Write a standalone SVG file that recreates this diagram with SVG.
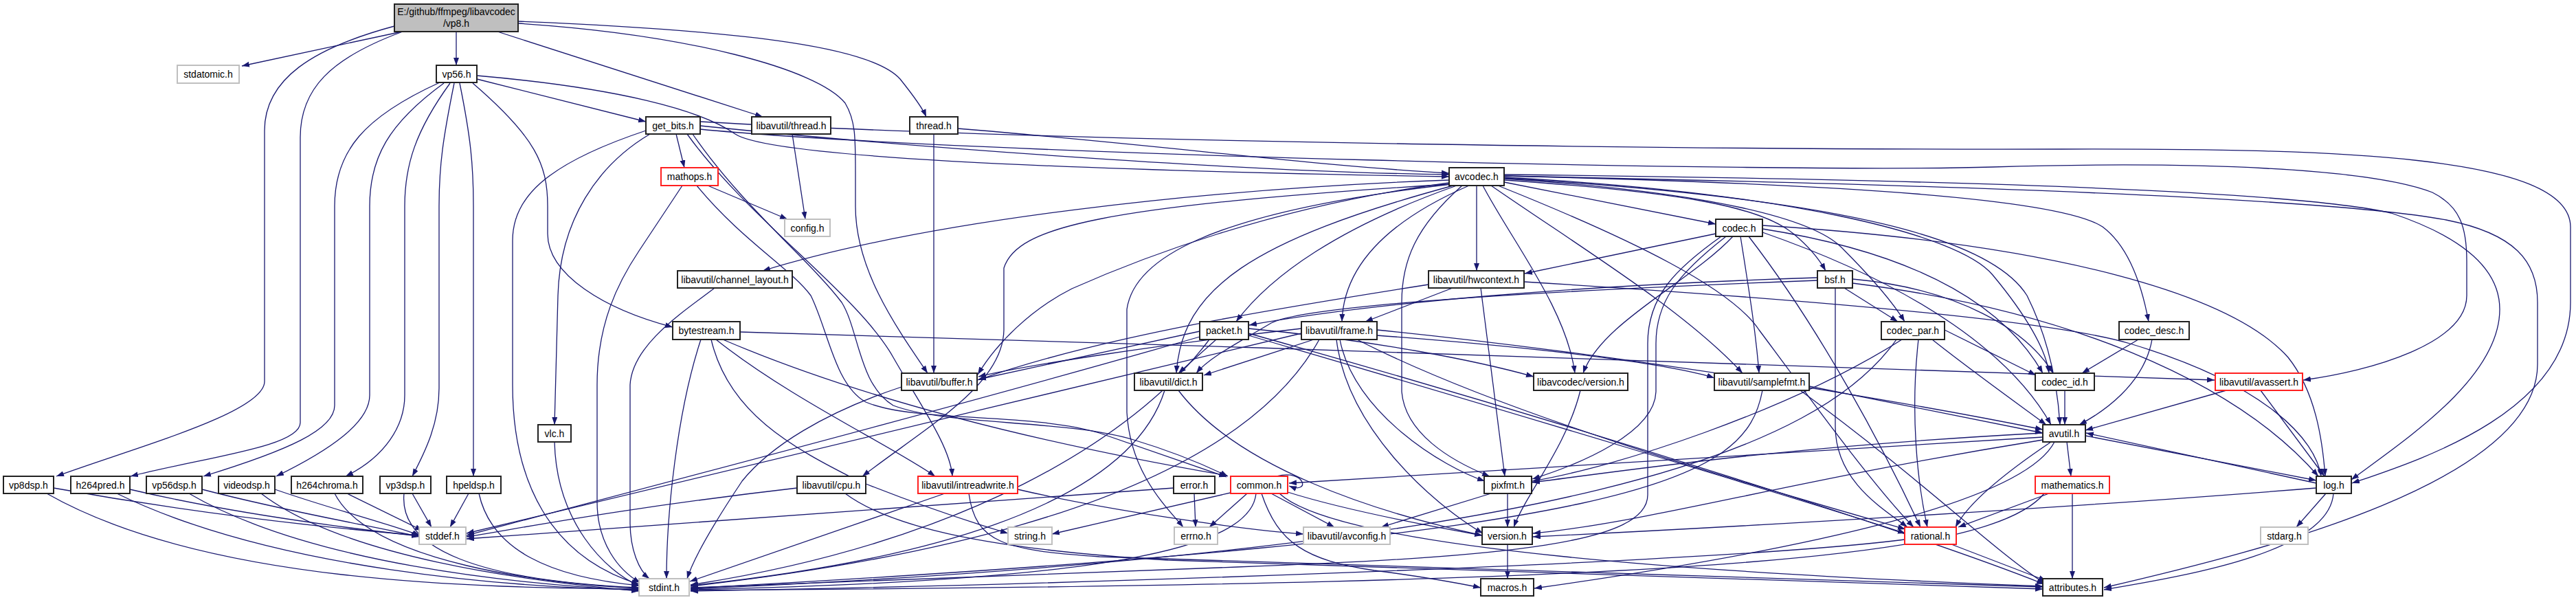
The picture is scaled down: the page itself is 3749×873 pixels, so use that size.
<svg xmlns="http://www.w3.org/2000/svg" width="3749" height="873" viewBox="0 0 3749 873">
<defs>
<marker id="a" markerWidth="12" markerHeight="9" refX="11" refY="4" orient="auto" markerUnits="userSpaceOnUse"><path d="M0,0 L11,4 L0,8 z" fill="#191970"/></marker>
<style>
.n rect{fill:#fff;stroke:#222;stroke-width:2}
.g rect{fill:#fff;stroke:#bfbfbf;stroke-width:2}
.r rect{fill:#fff;stroke:#ff2020;stroke-width:2}
.m rect{fill:#bfbfbf;stroke:#222;stroke-width:2}
text{font-family:"Liberation Sans",Arial,sans-serif;font-size:14px;fill:#000;text-anchor:middle}
#edges path{fill:none;stroke:#191970;stroke-width:1.3;marker-end:url(#a)}
</style>
</defs>
<rect width="3749" height="873" fill="#fff"/>
<g id="edges">
<path d="M585,46 L352,96"/>
<path d="M664,46 L664,95"/>
<path d="M574,38 C455,70 385,115 385,190 L385,555 C385,600 200,650 82,693"/>
<path d="M586,46 C480,85 437,130 437,200 L437,615 C437,650 300,665 190,693"/>
<path d="M724,46 L1110,170"/>
<path d="M754,31 C1100,45 1270,70 1310,115 C1330,140 1343,158 1348,170"/>
<path d="M754,34 C1000,50 1190,100 1230,150 C1245,175 1245,200 1245,250 L1245,300 C1245,390 1300,470 1350,543"/>
<path d="M694,115 L940,177"/>
<path d="M694,110 C900,128 1020,160 1070,195 C1130,235 1700,250 2109,257"/>
<path d="M640,120 C530,170 487,220 487,300 L487,590 C487,625 420,655 296,693"/>
<path d="M646,121 C565,180 538,230 538,300 L538,575 C538,615 480,655 402,693"/>
<path d="M655,121 C605,190 589,240 589,300 L589,575 C589,620 560,665 503,693"/>
<path d="M661,121 C645,200 639,240 639,300 L639,565 C639,615 620,655 600,693"/>
<path d="M669,121 C685,200 689,240 689,300 L689,693"/>
<path d="M688,121 C780,200 797,240 797,300 L797,340 C797,400 880,450 979,476"/>
<path d="M984,195 L996,244"/>
<path d="M946,195 C870,240 815,320 812,430 L807,618"/>
<path d="M940,190 C790,240 746,290 746,350 L746,560 C746,700 800,810 930,850"/>
<path d="M1000,195 C1090,320 1250,430 1300,520 C1340,590 1383,650 1386,693"/>
<path d="M1008,195 C1080,300 1180,380 1225,440 C1250,480 1250,560 1300,590 C1380,620 1550,610 1650,640 C1700,655 1750,675 1787,693"/>
<path d="M1019,183 C1300,212 1800,250 2109,254"/>
<path d="M1019,177 C1600,210 2600,218 3000,217 C3400,216 3740,225 3741,330 L3741,440 C3741,600 3520,670 3423,703"/>
<path d="M1019,188 C1400,225 2600,252 2900,243 C3200,234 3450,245 3540,280 C3580,300 3590,330 3590,380 L3590,430 C3590,500 3450,540 3352,553"/>
<path d="M1030,270 L1146,319"/>
<path d="M993,270 L930,365 C900,410 869,470 869,560 L869,730 C869,790 900,830 932,848"/>
<path d="M1014,270 C1080,350 1150,390 1180,430 C1205,480 1215,560 1260,585 C1330,615 1500,600 1600,630 L1785,694"/>
<path d="M1153,195 L1172,319"/>
<path d="M1394,187 C1700,212 1900,240 2109,252"/>
<path d="M1359,195 L1359,543"/>
<path d="M1040,419 C1000,450 920,500 917,560 L917,760 C917,800 930,830 945,842"/>
<path d="M2112,268 C1750,310 1650,380 1640,450 L1640,600 C1645,690 1700,740 1722,767"/>
<path d="M2109,262 C1750,275 1350,320 1110,394"/>
<path d="M2109,266 C1850,300 1650,380 1560,420 C1500,450 1450,500 1423,545"/>
<path d="M2109,268 C1600,300 1480,330 1461,390 L1461,480 C1460,560 1350,620 1255,693"/>
<path d="M2115,270 C1820,350 1720,420 1712,543"/>
<path d="M2120,270 C1950,330 1850,400 1799,468"/>
<path d="M2138,270 C2000,330 1955,400 1953,468"/>
<path d="M2149,270 L2149,394"/>
<path d="M2158,270 C2200,350 2280,450 2292,543"/>
<path d="M2128,270 C2060,330 2040,380 2040,440 L2040,570 C2045,630 2110,670 2168,693"/>
<path d="M2170,270 C2300,360 2450,450 2536,543"/>
<path d="M2189,265 L2497,326"/>
<path d="M2189,262 C2450,280 2560,300 2610,340 C2640,365 2652,385 2657,394"/>
<path d="M2189,260 C2500,280 2640,320 2680,360 C2720,400 2755,440 2772,468"/>
<path d="M2189,258 C2600,280 2850,340 2900,400 C2950,460 2978,510 2982,543"/>
<path d="M2189,256 C2700,268 3000,290 3060,330 C3100,360 3118,420 3127,468"/>
<path d="M2189,259 C2700,290 2900,350 2950,430 C2985,500 2995,570 2998,618"/>
<path d="M2189,254 C2900,262 3350,280 3480,310 C3600,350 3638,400 3638,450 C3638,550 3500,640 3422,698"/>
<path d="M2189,256 C2900,270 3400,290 3560,320 C3660,340 3693,380 3693,440 L3693,530 C3693,700 3300,800 3062,855"/>
<path d="M2180,270 C2380,350 2520,420 2560,480 C2620,560 2720,700 2785,767"/>
<path d="M2497,340 L2219,398"/>
<path d="M2505,344 C2440,390 2398,430 2398,500 L2398,720 C2398,790 2200,810 1800,825 C1500,838 1200,850 1005,855"/>
<path d="M2512,344 C2440,400 2410,440 2410,500 L2410,570 C2408,630 2300,675 2230,697"/>
<path d="M2533,344 C2545,420 2555,480 2560,543"/>
<path d="M2522,344 C2460,410 2330,470 2304,543"/>
<path d="M2565,333 C2800,370 2920,450 2973,543"/>
<path d="M2565,338 C2800,420 2930,520 2985,618"/>
<path d="M2565,328 C3000,355 3250,430 3330,520 C3370,570 3380,640 3384,693"/>
<path d="M2545,344 C2650,480 2740,650 2795,767"/>
<path d="M2079,414 C1850,450 1600,490 1423,553"/>
<path d="M2114,419 L1987,468"/>
<path d="M2218,410 C2700,440 3000,470 3100,500 C3300,560 3370,640 3378,693"/>
<path d="M2155,419 L2190,693"/>
<path d="M2645,404 C2300,415 2000,440 1818,473"/>
<path d="M2645,408 C2200,425 1900,445 1850,470 C1800,500 1760,520 1741,543"/>
<path d="M2684,419 L2762,468"/>
<path d="M2696,406 C2850,420 2950,480 2988,543"/>
<path d="M2696,412 C3000,450 3250,550 3374,693"/>
<path d="M2671,419 L2671,620 C2671,700 2740,740 2776,767"/>
<path d="M1746,482 L1424,552"/>
<path d="M1770,494 L1715,543"/>
<path d="M1746,490 C1400,590 900,720 679,779"/>
<path d="M1760,494 C1650,640 1400,790 1005,851"/>
<path d="M1817,485 C2300,620 2800,780 2975,850"/>
<path d="M1817,488 C2200,600 2600,720 2773,776"/>
<path d="M1817,478 C2000,495 2150,525 2232,548"/>
<path d="M1894,485 C1500,580 900,720 679,776"/>
<path d="M1920,494 C1850,620 1650,780 1005,853"/>
<path d="M2004,480 C2400,520 2800,590 2973,625"/>
<path d="M1894,478 C1700,500 1500,530 1424,548"/>
<path d="M1912,494 L1752,546"/>
<path d="M1975,494 C2200,610 2600,720 2773,770"/>
<path d="M2004,488 C2300,510 2450,535 2495,550"/>
<path d="M1950,494 C1970,600 2100,680 2161,700"/>
<path d="M1945,494 C1960,620 2080,730 2158,776"/>
<path d="M2760,494 C2650,650 2300,800 1005,857"/>
<path d="M2792,494 C2780,600 2790,700 2805,767"/>
<path d="M2768,494 C2600,600 2350,680 2230,700"/>
<path d="M2830,480 L2963,546"/>
<path d="M2812,494 C2870,540 2940,590 2978,618"/>
<path d="M3112,494 L3030,543"/>
<path d="M3132,494 C3120,560 3060,600 3026,618"/>
<path d="M1312,563 C1200,600 1120,650 1080,700 C1040,760 1010,810 1000,842"/>
<path d="M1695,568 C1660,680 1500,800 1005,852"/>
<path d="M1715,568 C1800,680 2000,745 2157,779"/>
<path d="M2300,568 C2280,650 2220,720 2203,767"/>
<path d="M2565,568 C2540,700 2400,780 1005,856"/>
<path d="M2633,562 L2973,630"/>
<path d="M2620,568 C2800,700 2900,800 2976,849"/>
<path d="M3005,568 L3005,618"/>
<path d="M3240,568 L3035,626"/>
<path d="M3290,568 L3383,693"/>
<path d="M807,643 C810,760 880,830 931,853"/>
<path d="M78,710 C300,750 500,770 610,779"/>
<path d="M68,718 C300,850 700,855 930,857"/>
<path d="M189,712 C350,750 520,770 610,780"/>
<path d="M170,718 C400,830 750,855 930,858"/>
<path d="M294,712 C420,745 540,765 611,781"/>
<path d="M275,718 C450,820 750,850 930,859"/>
<path d="M400,712 C480,740 560,760 611,779"/>
<path d="M380,718 C500,810 760,845 930,860"/>
<path d="M505,718 L615,772"/>
<path d="M487,718 C540,820 800,850 930,856"/>
<path d="M600,718 L628,767"/>
<path d="M588,718 C580,800 700,845 930,855"/>
<path d="M682,718 L655,767"/>
<path d="M697,718 C715,800 800,840 931,852"/>
<path d="M1160,710 C900,740 750,770 679,781"/>
<path d="M1230,718 C1300,770 1450,800 1700,815 C2200,835 2700,850 2973,857"/>
<path d="M1375,718 L1004,846"/>
<path d="M1481,712 C1600,740 1800,770 1897,777"/>
<path d="M1410,718 C1420,790 1460,800 1600,810 C2200,830 2700,845 2973,854"/>
<path d="M1738,718 L1740,767"/>
<path d="M1708,710 C1300,740 900,770 679,784"/>
<path d="M1795,716 L1531,777"/>
<path d="M1815,718 L1760,767"/>
<path d="M1828,718 C1820,800 1600,845 1005,858"/>
<path d="M1850,718 L1942,767"/>
<path d="M1836,718 C1860,790 1900,815 2000,830 C2080,840 2130,850 2155,855"/>
<path d="M1874,716 C1950,740 2050,760 2157,779"/>
<path d="M1862,718 C1950,800 2500,835 2973,853"/>
<path d="M1858,693 C1900,682 1908,720 1876,707"/>
<path d="M2170,718 L2010,767"/>
<path d="M2194,718 L2194,767"/>
<path d="M2975,718 C2900,810 2500,850 1005,859"/>
<path d="M2982,718 L2850,767"/>
<path d="M3016,718 L3016,842"/>
<path d="M3385,718 L3342,767"/>
<path d="M3396,718 C3390,800 3200,835 3062,858"/>
<path d="M3371,710 C3000,740 2500,768 2231,781"/>
<path d="M3371,703 L3036,630"/>
<path d="M2973,636 L1876,703"/>
<path d="M2985,643 C2900,700 2860,740 2846,767"/>
<path d="M2973,640 C2600,700 2400,760 2231,776"/>
<path d="M2990,643 C2950,720 2700,790 2233,856"/>
<path d="M3008,643 L3014,693"/>
<path d="M3035,634 L3371,699"/>
<path d="M2973,630 C2600,650 2400,680 2230,702"/>
<path d="M2840,792 L2978,845"/>
<path d="M2772,785 C2500,820 1500,852 1005,860"/>
<path d="M2194,792 L2194,842"/>
<path d="M1077,483 C1800,505 2800,535 3223,553"/>
<path d="M1020,494 C985,600 970,750 970,842"/>
<path d="M1035,494 C1060,600 1150,650 1250,700 C1350,740 1430,765 1467,776"/>
<path d="M1042,494 C1150,580 1300,650 1361,693"/>
<path d="M1052,494 C1300,600 1600,660 1786,692"/>
</g>
<g id="vp8" class="m"><rect x="574" y="6" width="180" height="40"/><text x="664" y="22">E:/github/ffmpeg/libavcodec</text><text x="664" y="39">/vp8.h</text></g>
<g id="stdatomic" class="g"><rect x="258" y="95" width="90" height="26"/><text x="303" y="113">stdatomic.h</text></g>
<g id="vp56" class="n"><rect x="635" y="95" width="59" height="25"/><text x="664.5" y="113">vp56.h</text></g>
<g id="get_bits" class="n"><rect x="940" y="170" width="79" height="25"/><text x="979.5" y="188">get_bits.h</text></g>
<g id="lthread" class="n"><rect x="1094" y="170" width="115" height="25"/><text x="1151.5" y="188">libavutil/thread.h</text></g>
<g id="thread" class="n"><rect x="1324" y="170" width="70" height="25"/><text x="1359" y="188">thread.h</text></g>
<g id="mathops" class="r"><rect x="962" y="244" width="83" height="26"/><text x="1003.5" y="262">mathops.h</text></g>
<g id="config" class="g"><rect x="1142" y="319" width="66" height="25"/><text x="1175" y="337">config.h</text></g>
<g id="channel_layout" class="n"><rect x="986" y="394" width="167" height="25"/><text x="1069.5" y="412">libavutil/channel_layout.h</text></g>
<g id="avcodec" class="n"><rect x="2109" y="244" width="80" height="26"/><text x="2149" y="262">avcodec.h</text></g>
<g id="codec" class="n"><rect x="2497" y="319" width="68" height="25"/><text x="2531" y="337">codec.h</text></g>
<g id="hwcontext" class="n"><rect x="2079" y="394" width="139" height="25"/><text x="2148.5" y="412">libavutil/hwcontext.h</text></g>
<g id="bsf" class="n"><rect x="2645" y="394" width="51" height="25"/><text x="2670.5" y="412">bsf.h</text></g>
<g id="bytestream" class="n"><rect x="979" y="468" width="98" height="26"/><text x="1028" y="486">bytestream.h</text></g>
<g id="packet" class="n"><rect x="1746" y="468" width="71" height="26"/><text x="1781.5" y="486">packet.h</text></g>
<g id="frame" class="n"><rect x="1894" y="468" width="110" height="26"/><text x="1949" y="486">libavutil/frame.h</text></g>
<g id="codec_par" class="n"><rect x="2738" y="468" width="92" height="26"/><text x="2784" y="486">codec_par.h</text></g>
<g id="codec_desc" class="n"><rect x="3084" y="468" width="102" height="26"/><text x="3135" y="486">codec_desc.h</text></g>
<g id="buffer" class="n"><rect x="1312" y="543" width="110" height="25"/><text x="1367" y="561">libavutil/buffer.h</text></g>
<g id="dict" class="n"><rect x="1651" y="543" width="99" height="25"/><text x="1700.5" y="561">libavutil/dict.h</text></g>
<g id="lcversion" class="n"><rect x="2232" y="543" width="137" height="25"/><text x="2300.5" y="561">libavcodec/version.h</text></g>
<g id="samplefmt" class="n"><rect x="2495" y="543" width="138" height="25"/><text x="2564" y="561">libavutil/samplefmt.h</text></g>
<g id="codec_id" class="n"><rect x="2962" y="543" width="86" height="25"/><text x="3005" y="561">codec_id.h</text></g>
<g id="avassert" class="r"><rect x="3224" y="543" width="127" height="25"/><text x="3287.5" y="561">libavutil/avassert.h</text></g>
<g id="vlc" class="n"><rect x="783" y="618" width="48" height="25"/><text x="807" y="636">vlc.h</text></g>
<g id="avutil" class="n"><rect x="2973" y="618" width="62" height="25"/><text x="3004" y="636">avutil.h</text></g>
<g id="vp8dsp" class="n"><rect x="5" y="693" width="73" height="25"/><text x="41.5" y="711">vp8dsp.h</text></g>
<g id="h264pred" class="n"><rect x="103" y="693" width="86" height="25"/><text x="146" y="711">h264pred.h</text></g>
<g id="vp56dsp" class="n"><rect x="213" y="693" width="81" height="25"/><text x="253.5" y="711">vp56dsp.h</text></g>
<g id="videodsp" class="n"><rect x="318" y="693" width="82" height="25"/><text x="359" y="711">videodsp.h</text></g>
<g id="h264chroma" class="n"><rect x="424" y="693" width="104" height="25"/><text x="476" y="711">h264chroma.h</text></g>
<g id="vp3dsp" class="n"><rect x="553" y="693" width="74" height="25"/><text x="590" y="711">vp3dsp.h</text></g>
<g id="hpeldsp" class="n"><rect x="650" y="693" width="79" height="25"/><text x="689.5" y="711">hpeldsp.h</text></g>
<g id="cpu" class="n"><rect x="1160" y="693" width="100" height="25"/><text x="1210" y="711">libavutil/cpu.h</text></g>
<g id="intreadwrite" class="r"><rect x="1336" y="693" width="145" height="25"/><text x="1408.5" y="711">libavutil/intreadwrite.h</text></g>
<g id="error" class="n"><rect x="1708" y="693" width="60" height="25"/><text x="1738" y="711">error.h</text></g>
<g id="common" class="r"><rect x="1791" y="693" width="83" height="25"/><text x="1832.5" y="711">common.h</text></g>
<g id="pixfmt" class="n"><rect x="2160" y="693" width="69" height="25"/><text x="2194.5" y="711">pixfmt.h</text></g>
<g id="mathematics" class="r"><rect x="2962" y="693" width="108" height="25"/><text x="3016" y="711">mathematics.h</text></g>
<g id="log" class="n"><rect x="3371" y="693" width="51" height="25"/><text x="3396.5" y="711">log.h</text></g>
<g id="stddef" class="g"><rect x="610" y="767" width="68" height="25"/><text x="644" y="785">stddef.h</text></g>
<g id="string" class="g"><rect x="1467" y="767" width="64" height="25"/><text x="1499" y="785">string.h</text></g>
<g id="errno" class="g"><rect x="1709" y="767" width="63" height="25"/><text x="1740.5" y="785">errno.h</text></g>
<g id="avconfig" class="g"><rect x="1897" y="767" width="126" height="25"/><text x="1960" y="785">libavutil/avconfig.h</text></g>
<g id="version" class="n"><rect x="2157" y="767" width="73" height="25"/><text x="2193.5" y="785">version.h</text></g>
<g id="rational" class="r"><rect x="2772" y="767" width="75" height="25"/><text x="2809.5" y="785">rational.h</text></g>
<g id="stdarg" class="g"><rect x="3290" y="767" width="69" height="25"/><text x="3324.5" y="785">stdarg.h</text></g>
<g id="stdint" class="g"><rect x="930" y="842" width="73" height="25"/><text x="966.5" y="860">stdint.h</text></g>
<g id="macros" class="n"><rect x="2155" y="842" width="77" height="25"/><text x="2193.5" y="860">macros.h</text></g>
<g id="attributes" class="n"><rect x="2973" y="842" width="87" height="25"/><text x="3016.5" y="860">attributes.h</text></g>
</svg>
